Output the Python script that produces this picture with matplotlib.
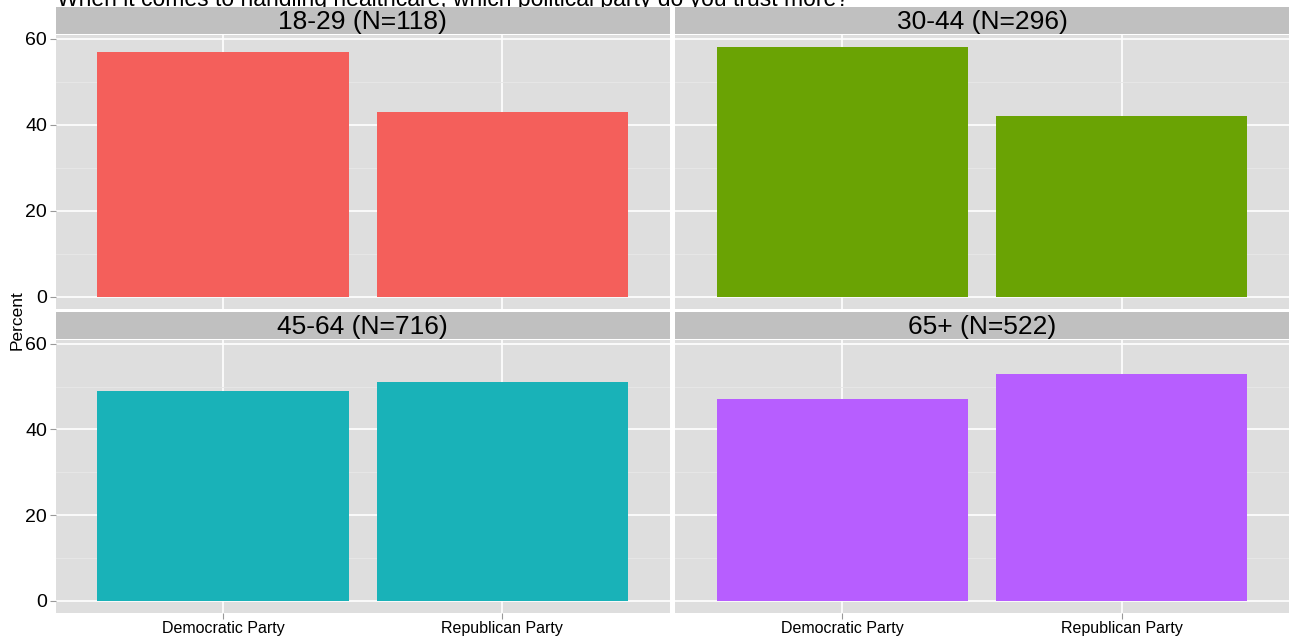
import matplotlib.pyplot as plt
from matplotlib.ticker import MultipleLocator

plt.rcParams['font.family'] = ['Liberation Sans', 'DejaVu Sans']

groups = ["18-29 (N=118)", "30-44 (N=296)", "45-64 (N=716)", "65+ (N=522)"]
parties = ["Democratic Party", "Republican Party"]
dem = [57, 58, 49, 47]
rep = [43, 42, 51, 53]
colors = ["#F45F5B", "#6AA304", "#19B2B8", "#B75EFF"]

W, H = 1289, 642
fig = plt.figure(figsize=(W / 100, H / 100), dpi=100)
fig.patch.set_facecolor("white")

# panel boxes in pixels: (left, right) and (top, bottom)
cols = [(55.5, 670), (675, 1289)]
rows = [(35, 309), (340, 613)]
strip_h = 27

for i, g in enumerate(groups):
    r, c = divmod(i, 2)
    x0, x1 = cols[c]
    y0, y1 = rows[r]
    ax = fig.add_axes([x0 / W, 1 - y1 / H, (x1 - x0) / W, (y1 - y0) / H])
    ax.set_facecolor("#DEDEDE")
    ax.bar([1, 2], [dem[i], rep[i]], width=0.9, color=colors[i], zorder=3)
    ax.set_xlim(0.4, 2.6)
    ax.set_ylim(-2.9, 60.9)
    ax.yaxis.set_major_locator(MultipleLocator(20))
    ax.yaxis.set_minor_locator(MultipleLocator(10))
    ax.set_xticks([1, 2])
    ax.grid(which="major", color="white", lw=1.2, zorder=0)
    ax.grid(which="minor", axis="y", color="#E8E8E8", lw=0.6, zorder=0)
    ax.tick_params(which="minor", length=0)
    ax.tick_params(axis="both", color="#999999", length=4, width=0.8, pad=2)
    for s in ax.spines.values():
        s.set_visible(False)
    if c == 0:
        ax.tick_params(axis="y", labelsize=14)
    else:
        ax.tick_params(axis="y", labelleft=False, length=0)
    if r == 1:
        ax.set_xticklabels(parties, fontsize=11.5)
    else:
        ax.tick_params(axis="x", labelbottom=False, length=0)

    sax = fig.add_axes([x0 / W, 1 - (y0 - 1) / H, (x1 - x0) / W, strip_h / H])
    sax.set_facecolor("#C0C0C0")
    sax.set_xticks([])
    sax.set_yticks([])
    for s in sax.spines.values():
        s.set_visible(False)
    sax.text(0.5, 0.45, g, ha="center", va="center", fontsize=19, transform=sax.transAxes)

fig.text(17 / W, 322 / H, "Percent", rotation=90, ha="center", va="center", fontsize=12.5)
fig.text(57 / W, 1 - 6 / H, "When it comes to handling healthcare, which political party do you trust more?",
         ha="left", va="baseline", fontsize=16.5, zorder=-1)

fig.savefig("out.png", dpi=100)
